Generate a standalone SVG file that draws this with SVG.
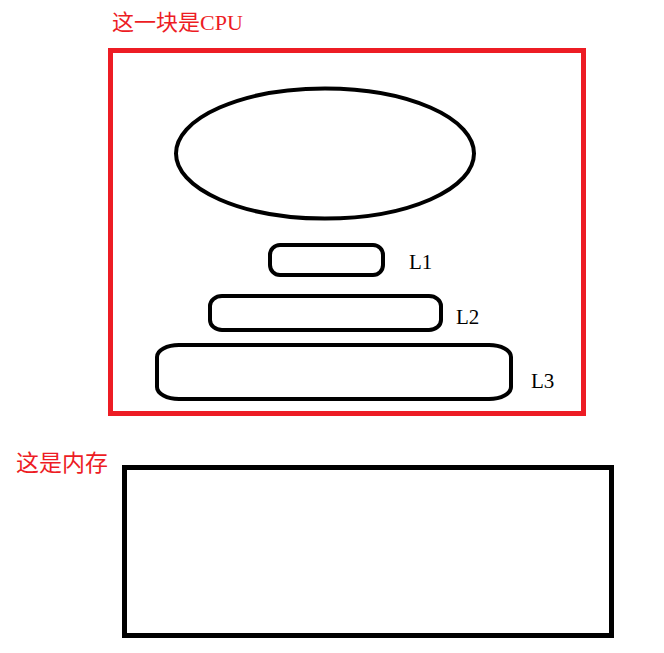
<svg xmlns="http://www.w3.org/2000/svg" width="664" height="653" viewBox="0 0 664 653">
<style>
.red{fill:#ed1c24;font-family:"Liberation Serif","Noto Sans CJK SC",serif}
.lbl{fill:#000;font-family:"Liberation Serif",serif;font-size:21px}
.sh{fill:none;stroke:#000;stroke-width:4}
</style>
<rect width="664" height="653" fill="#fff"/>
<g id="cpu">
<rect x="110.5" y="50.5" width="473" height="363" fill="none" stroke="#ed1c24" stroke-width="5"/>
<text class="red" x="112" y="30" font-size="22">这一块是CPU</text>
</g>
<g id="core">
<ellipse class="sh" cx="325" cy="153.5" rx="149" ry="65"/>
</g>
<g id="l1">
<rect class="sh" x="270" y="245" width="113" height="30" rx="10" ry="10"/>
<text class="lbl" x="409" y="269">L1</text>
</g>
<g id="l2">
<rect class="sh" x="210" y="296" width="231" height="34" rx="12" ry="10"/>
<text class="lbl" x="456" y="324">L2</text>
</g>
<g id="l3">
<rect class="sh" x="157" y="345" width="354" height="54" rx="22" ry="12"/>
<text class="lbl" x="531" y="388">L3</text>
</g>
<g id="memory">
<rect x="124.5" y="467.5" width="487" height="168" fill="none" stroke="#000" stroke-width="5"/>
<text class="red" x="16" y="471" font-size="23">这是内存</text>
</g>
<g id="connectors"></g>
</svg>
